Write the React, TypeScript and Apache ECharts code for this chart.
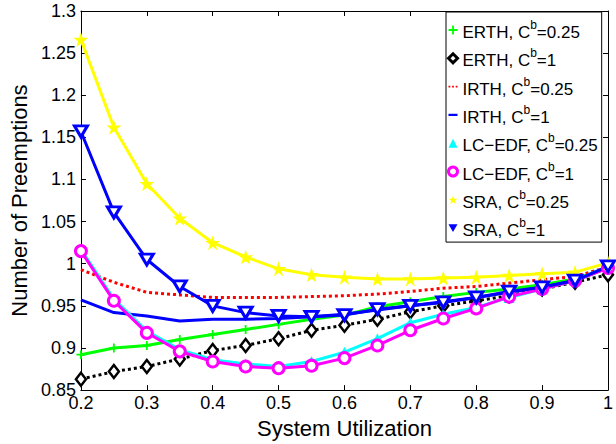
import React, { useEffect, useRef } from "react";
import * as echarts from "echarts";

// System utilization sampled every 0.05
const utilization = [0.2, 0.25, 0.3, 0.35, 0.4, 0.45, 0.5, 0.55, 0.6, 0.65, 0.7, 0.75, 0.8, 0.85, 0.9, 0.95, 1.0];

// Normalized number of preemptions per scheduler and C^b setting
const erthQuarter = [0.892, 0.900, 0.903, 0.910, 0.916, 0.922, 0.928, 0.934, 0.939, 0.949, 0.955, 0.961, 0.966, 0.970, 0.975, 0.982, 0.995];
const erthOne = [0.863, 0.872, 0.878, 0.887, 0.897, 0.903, 0.911, 0.921, 0.927, 0.934, 0.943, 0.950, 0.956, 0.962, 0.970, 0.978, 0.987];
const irthQuarter = [0.993, 0.978, 0.966, 0.963, 0.960, 0.960, 0.960, 0.961, 0.962, 0.964, 0.967, 0.971, 0.973, 0.977, 0.981, 0.985, 0.996];
const irthOne = [0.957, 0.942, 0.938, 0.932, 0.934, 0.934, 0.935, 0.937, 0.940, 0.945, 0.950, 0.955, 0.960, 0.966, 0.972, 0.980, 0.995];
const lcEdfQuarter = [1.017, 0.958, 0.920, 0.898, 0.886, 0.881, 0.878, 0.884, 0.895, 0.911, 0.930, 0.940, 0.948, 0.960, 0.970, 0.980, 0.997];
const lcEdfOne = [1.015, 0.956, 0.918, 0.896, 0.884, 0.878, 0.876, 0.879, 0.888, 0.903, 0.921, 0.935, 0.947, 0.961, 0.970, 0.980, 0.995];
const sraQuarter = [1.266, 1.162, 1.095, 1.054, 1.025, 1.008, 0.994, 0.987, 0.984, 0.982, 0.982, 0.983, 0.984, 0.986, 0.988, 0.990, 1.001];
const sraOne = [1.157, 1.061, 1.005, 0.973, 0.950, 0.942, 0.938, 0.937, 0.939, 0.946, 0.950, 0.954, 0.960, 0.967, 0.972, 0.980, 0.997];

const seriesNames = [
  "ERTH, C^b=0.25",
  "ERTH, C^b=1",
  "IRTH, C^b=0.25",
  "IRTH, C^b=1",
  "LC\u2212EDF, C^b=0.25",
  "LC\u2212EDF, C^b=1",
  "SRA, C^b=0.25",
  "SRA, C^b=1",
];

const FONT = '"Liberation Sans", Arial, Helvetica, sans-serif';

const STAR = "path://M10,0L12.245,6.91L19.51,6.91L13.633,11.18L15.88,18.09L10,13.82L4.12,18.09L6.367,11.18L0.49,6.91L7.755,6.91Z";
const PLUS = "path://M4,0H6V4H10V6H6V10H4V6H0V4H4Z";
const TRI_DOWN = "path://M0,0L10,0L5,8.66Z";
const DOTS = "path://M0,0H2V2H0ZM4,0H6V2H4ZM8,0H10V2H8Z";
const DASH = "path://M0,0H8V2H0Z";

const GREEN = "#00ff00";
const BLACK = "#000000";
const RED = "#ff0000";
const BLUE = "#0000ff";
const CYAN = "#00ffff";
const MAGENTA = "#ff00ff";
const YELLOW = "#ffff00";

function pairs(values: number[]) {
  return utilization.map((x, i) => [x, values[i]]);
}

function line(
  name: string,
  values: number[],
  color: string,
  lineType: any,
  symbol: string,
  symbolSize: any,
  itemStyle: any
) {
  return {
    name,
    type: "line",
    data: pairs(values),
    symbol,
    symbolSize,
    showSymbol: symbol !== "none",
    lineStyle: { color, width: 3, type: lineType },
    itemStyle,
    emphasis: { disabled: true },
    z: 2,
  };
}

export default function App() {
  const ref = useRef<HTMLDivElement>(null);

  useEffect(() => {
    if (!ref.current) return;
    const chart = echarts.init(ref.current, undefined, { renderer: "svg" });

    const tickAxisCommon = {
      axisLine: { show: true, onZero: false, lineStyle: { color: BLACK, width: 1 } },
      axisTick: { show: true, inside: true, length: 5, lineStyle: { color: BLACK, width: 1 } },
      splitLine: { show: false },
    };

    const option = {
      animation: false,
      backgroundColor: "#ffffff",
      grid: { left: 69, right: 2, top: 11, bottom: 45, containLabel: false },
      xAxis: [
        {
          type: "value",
          min: 0.2,
          max: 1,
          interval: 0.1,
          position: "bottom",
          name: "System Utilization",
          nameLocation: "middle",
          nameGap: 19,
          nameTextStyle: { fontFamily: FONT, fontSize: 22, color: BLACK },
          axisLabel: { fontFamily: FONT, fontSize: 18, color: BLACK, margin: 4 },
          ...tickAxisCommon,
        },
        {
          type: "value",
          min: 0.2,
          max: 1,
          interval: 0.1,
          position: "top",
          axisLabel: { show: false },
          ...tickAxisCommon,
        },
      ],
      yAxis: [
        {
          type: "value",
          min: 0.85,
          max: 1.3,
          interval: 0.05,
          position: "left",
          name: "Number of Preemptions",
          nameLocation: "middle",
          nameGap: 43,
          nameTextStyle: { fontFamily: FONT, fontSize: 22, color: BLACK },
          axisLabel: { fontFamily: FONT, fontSize: 18, color: BLACK, margin: 5 },
          ...tickAxisCommon,
        },
        {
          type: "value",
          min: 0.85,
          max: 1.3,
          interval: 0.05,
          position: "right",
          axisLabel: { show: false },
          ...tickAxisCommon,
        },
      ],
      legend: {
        orient: "vertical",
        left: 446,
        top: 12,
        padding: [7, 4, 3, 1],
        itemGap: 6.3,
        itemWidth: 9,
        itemHeight: 9,
        backgroundColor: "#ffffff",
        borderColor: BLACK,
        borderWidth: 1,
        borderRadius: 0,
        selectedMode: false,
        formatter: (name: string) => {
          const [head, tail] = name.split("^b");
          return "{t|" + head + "}{sup|b}{t|" + tail + "}";
        },
        textStyle: {
          fontFamily: FONT,
          fontSize: 17,
          color: BLACK,
          rich: {
            t: { fontFamily: FONT, fontSize: 17, color: BLACK, lineHeight: 22, verticalAlign: "bottom" },
            sup: {
              fontFamily: FONT,
              fontSize: 12,
              color: BLACK,
              lineHeight: 12,
              padding: [0, 0, 10, 0],
              verticalAlign: "bottom",
            },
          },
        },
        data: [
          { name: seriesNames[0], icon: PLUS, itemStyle: { color: GREEN, borderWidth: 0 } },
          { name: seriesNames[1], icon: "diamond", itemStyle: { color: "#ffffff", borderColor: BLACK, borderWidth: 3 } },
          { name: seriesNames[2], icon: DOTS, itemStyle: { color: RED, borderWidth: 0 } },
          { name: seriesNames[3], icon: DASH, itemStyle: { color: BLUE, borderWidth: 0 } },
          { name: seriesNames[4], icon: "triangle", itemStyle: { color: CYAN, borderWidth: 0 } },
          { name: seriesNames[5], icon: "circle", itemStyle: { color: "#ffffff", borderColor: MAGENTA, borderWidth: 3 } },
          { name: seriesNames[6], icon: STAR, itemStyle: { color: YELLOW, borderWidth: 0 } },
          { name: seriesNames[7], icon: TRI_DOWN, itemStyle: { color: BLUE, borderWidth: 0 } },
        ],
      },
      series: [
        line(seriesNames[0], erthQuarter, GREEN, "solid", PLUS, 9, { color: GREEN }),
        line(seriesNames[1], erthOne, BLACK, [3, 3], "diamond", [10, 13], {
          color: "#ffffff",
          borderColor: BLACK,
          borderWidth: 2.5,
        }),
        line(seriesNames[2], irthQuarter, RED, [3, 3], "none", 0, { color: RED }),
        line(seriesNames[3], irthOne, BLUE, "solid", "none", 0, { color: BLUE }),
        line(seriesNames[4], lcEdfQuarter, CYAN, "solid", "triangle", 11, { color: CYAN }),
        line(seriesNames[5], lcEdfOne, MAGENTA, "solid", "circle", 11, {
          color: "#ffffff",
          borderColor: MAGENTA,
          borderWidth: 3,
        }),
        line(seriesNames[6], sraQuarter, YELLOW, "solid", STAR, 15, { color: YELLOW }),
        line(seriesNames[7], sraOne, BLUE, "solid", TRI_DOWN, [13, 11], {
          color: "#ffffff",
          borderColor: BLUE,
          borderWidth: 3,
        }),
      ],
    };

    chart.setOption(option as any);
    return () => chart.dispose();
  }, []);

  return (
    <div
      ref={ref}
      style={{ position: "fixed", left: 0, top: 0, width: 616, height: 444, background: "#ffffff" }}
    />
  );
}
